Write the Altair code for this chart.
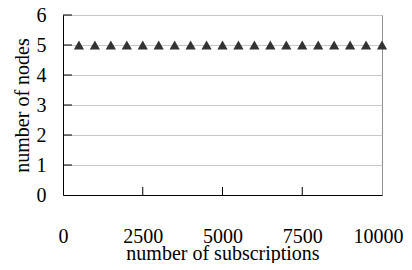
import altair as alt
import pandas as pd

subs = [500, 1000, 1500, 2000, 2500, 3000, 3500, 4000, 4500, 5000,
        5500, 6000, 6500, 7000, 7500, 8000, 8500, 9000, 9500, 10000]
nodes = [5] * 20
x_ticks = [0, 2500, 5000, 7500, 10000]
y_ticks = [0, 1, 2, 3, 4, 5, 6]

df = pd.DataFrame({"subs": subs, "nodes": nodes})
FONT = "Liberation Serif"

xscale = alt.Scale(domain=[0, 10000], nice=False)
yscale = alt.Scale(domain=[0, 6], nice=False)

pts = alt.Chart(df).mark_point(shape="triangle-up", filled=True, size=105,
                               color="#333333", opacity=1).encode(
    x=alt.X("subs:Q", scale=xscale,
            axis=alt.Axis(values=x_ticks, title="number of subscriptions", grid=False,
                          ticks=False, labelPadding=31, titlePadding=-3, format="d",
                          labelOffset=alt.condition("datum.value == 10000",
                                                    alt.value(-4), alt.value(0)),
                          domainColor="black", labelFlush=False, labelOverlap=False)),
    y=alt.Y("nodes:Q", scale=yscale,
            axis=alt.Axis(values=y_ticks, title="number of nodes", grid=True,
                          ticks=False, labelPadding=17, titlePadding=4, format="d",
                          domainColor="black", gridColor="#c8c8c8", labelOverlap=False)),
)

ytick_df = pd.DataFrame({"v": y_ticks[1:]})
yt = alt.Chart(ytick_df).mark_rule(color="black", strokeWidth=1).encode(
    y=alt.Y("v:Q", scale=yscale, axis=None), x=alt.value(0), x2=alt.value(9))

xtick_df = pd.DataFrame({"v": x_ticks[1:4]})
xt = alt.Chart(xtick_df).mark_rule(color="black", strokeWidth=1).encode(
    x=alt.X("v:Q", scale=xscale, axis=None), y=alt.value(172), y2=alt.value(180))

chart = alt.layer(pts, yt, xt).resolve_axis(x="independent", y="independent").properties(
    width=319, height=180,
    background="white",
    autosize=alt.AutoSizeParams(type="none"),
    padding={"left": 55, "top": 7, "right": 22, "bottom": 68},
).configure_view(stroke="#909090").configure_axis(
    labelFont=FONT, titleFont=FONT, labelFontSize=20, titleFontSize=20,
    labelColor="black", titleColor="black", titleFontWeight="normal",
    domainWidth=1,
)

chart.save("out.html", embed_options={"renderer": "svg", "actions": False})
